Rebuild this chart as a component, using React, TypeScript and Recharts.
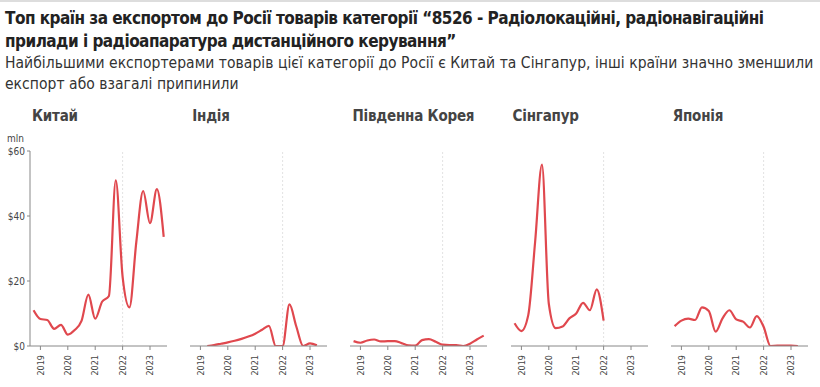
import React from "react";
import { LineChart, Line, XAxis, YAxis, ReferenceLine } from "recharts";

// quarters, Q4 2018 .. Q3 2023
const QUARTERS = [
  "2018-Q4",
  "2019-Q1", "2019-Q2", "2019-Q3", "2019-Q4",
  "2020-Q1", "2020-Q2", "2020-Q3", "2020-Q4",
  "2021-Q1", "2021-Q2", "2021-Q3", "2021-Q4",
  "2022-Q1", "2022-Q2", "2022-Q3", "2022-Q4",
  "2023-Q1", "2023-Q2", "2023-Q3",
];

// export, mln $
const chinaValues = [11.0, 8.3, 8.0, 5.3, 6.5, 3.5, 4.9, 7.7, 15.8, 8.4, 13.6, 15.4, 51, 21.3, 11.9, 32, 47.7, 37.8, 48.3, 33.6];
const indiaValues = [0, 0.3, 0.7, 1.1, 1.6, 2.2, 2.9, 3.8, 5.0, 6.2, 0, 0, 12.8, 6, 0, 0.8, 0.2]; // from 2019-Q2
const koreaValues = [1.5, 1.0, 1.7, 2.0, 1.4, 1.5, 1.5, 0.9, 0.2, 0.1, 1.8, 2.1, 1.3, 0.4, 0.3, 0.3, 0, 0.7, 2.0, 3.2];
const singaporeValues = [7.0, 4.6, 9.5, 32, 55.8, 13, 5.5, 6.0, 8.5, 10, 13.3, 11, 17.4, 7.8];
const japanValues = [6.1, 7.8, 8.4, 8.0, 11.9, 10.8, 4.4, 8.5, 11.0, 8.2, 7.5, 5.7, 9.2, 5.9, 0, 0.1, 0.1, 0.1, 0];

const YEAR_TICKS = [2019, 2020, 2021, 2022, 2023];
const Y_TICKS = [0, 20, 40, 60];

const toYear = (q: string) => {
  const [y, qq] = q.split("-Q");
  return Number(y) + (Number(qq) - 1) * 0.25;
};

const build = (values: number[], startQuarter: string) => {
  const start = QUARTERS.indexOf(startQuarter);
  return values.map((v, i) => ({ t: toYear(QUARTERS[start + i]), v }));
};

const panels = [
  { name: "Китай", data: build(chinaValues, "2018-Q4") },
  { name: "Індія", data: build(indiaValues, "2019-Q2") },
  { name: "Південна Корея", data: build(koreaValues, "2018-Q4") },
  { name: "Сінгапур", data: build(singaporeValues, "2018-Q4") },
  { name: "Японія", data: build(japanValues, "2018-Q4") },
];

const FONT = "'DejaVu Sans Condensed', 'Noto Sans', sans-serif";
const RED = "#e0484e";
const GRAY = "#444";

const YearTick = (props: any) => {
  const { x, y, payload } = props;
  return (
    <text
      x={x}
      y={y + 3}
      transform={`rotate(-90 ${x} ${y + 3})`}
      textAnchor="end"
      dy="0.35em"
      fontSize={9}
      fill={GRAY}
      fontFamily={FONT}
    >
      {payload.value}
    </text>
  );
};

function Panel({ index, name, data }: { index: number; name: string; data: { t: number; v: number }[] }) {
  const plotLeft = 30 + 160.2 * index;
  const first = index === 0;
  return (
    <>
      <div
        style={{
          position: "absolute",
          left: plotLeft + 2,
          top: 107,
          fontFamily: FONT,
          fontWeight: 700,
          fontSize: 15,
          letterSpacing: -0.2,
          color: GRAY,
          whiteSpace: "nowrap",
        }}
      >
        {name}
      </div>
      <div style={{ position: "absolute", left: plotLeft - 30, top: 130 }}>
        <LineChart
          width={180}
          height={256}
          data={data}
          margin={{ top: 21, right: 13, bottom: 5, left: first ? 0 : 30 }}
        >
          <XAxis
            dataKey="t"
            type="number"
            domain={[2018.62, 2023.62]}
            ticks={YEAR_TICKS}
            interval={0}
            height={35}
            stroke="#888"
            tickSize={4}
            tick={<YearTick />}
            allowDataOverflow
          />
          <YAxis
            hide={!first}
            width={30}
            domain={[0, 60]}
            ticks={Y_TICKS}
            stroke="#888"
            tickSize={3}
            tickFormatter={(v: number) => `$${v}`}
            tick={{ fontSize: 10, fill: GRAY, fontFamily: FONT }}
            allowDataOverflow
          />
          <ReferenceLine x={2022} stroke="#e2e2e2" strokeDasharray="2 2" />
          <Line
            type="monotone"
            dataKey="v"
            stroke={RED}
            strokeWidth={2.2}
            dot={false}
            isAnimationActive={false}
          />
        </LineChart>
      </div>
    </>
  );
}

export default function App() {
  return (
    <div
      style={{
        position: "absolute",
        left: 0,
        top: 0,
        width: 820,
        height: 387,
        background: "#fff",
        fontFamily: FONT,
        overflow: "hidden",
      }}
    >
      <div style={{ position: "absolute", left: 0, top: 0, width: 820, height: 2, background: "#ddd" }} />
      <div
        style={{
          position: "absolute",
          left: 5,
          top: 7,
          fontWeight: 700,
          fontSize: 17,
          letterSpacing: -0.53,
          lineHeight: "23px",
          color: "#222",
          whiteSpace: "nowrap",
        }}
      >
        Топ країн за експортом до Росії товарів категорії “8526 - Радіолокаційні, радіонавігаційні
        <br />
        прилади і радіоапаратура дистанційного керування”
      </div>
      <div
        style={{
          position: "absolute",
          left: 5,
          top: 53,
          fontSize: 15.5,
          letterSpacing: 0.04,
          lineHeight: "21px",
          color: "#333",
          whiteSpace: "nowrap",
        }}
      >
        Найбільшими експортерами товарів цієї категорії до Росії є Китай та Сінгапур, інші країни значно зменшили
        <br />
        експорт або взагалі припинили
      </div>
      <div style={{ position: "absolute", left: 7, top: 133, fontSize: 10, color: GRAY }}>mln</div>
      {panels.map((p, i) => (
        <Panel key={p.name} index={i} name={p.name} data={p.data} />
      ))}
    </div>
  );
}
